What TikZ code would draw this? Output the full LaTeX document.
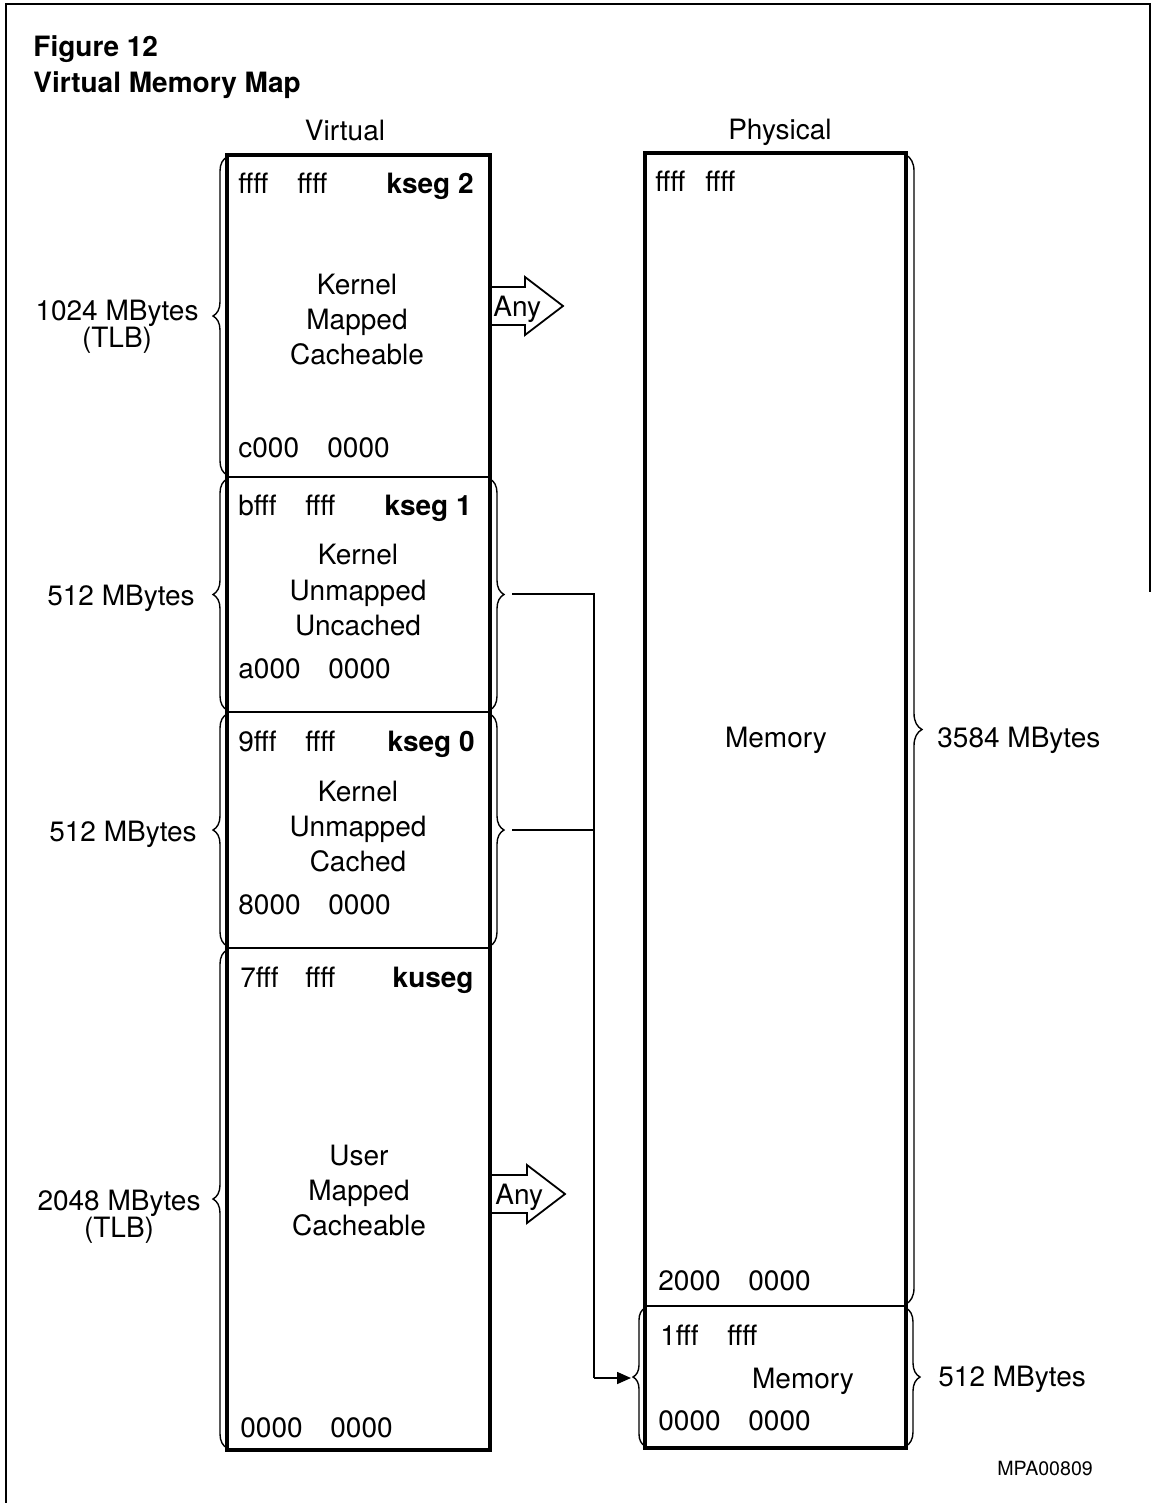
\documentclass[tikz,border=0pt]{standalone}
\usepackage{fontspec}
\setmainfont{TeX Gyre Heros}
\usetikzlibrary{decorations.pathreplacing,arrows.meta}
\begin{document}
\begin{tikzpicture}[x=0.5pt,y=-0.5pt,
  txt/.style={inner sep=0pt,font=\fontsize{14pt}{16pt}\selectfont},
  bld/.style={txt,font=\fontsize{14pt}{16pt}\selectfont\bfseries},
  thick box/.style={line width=2pt},
  divider/.style={line width=1pt},
  frame/.style={line width=1pt},
  brc/.style={decorate,decoration={brace,amplitude=#1},line width=0.7pt},
  brc/.default=7pt,
  conn/.style={line width=0.8pt},
  blockarrow/.style={line width=0.9pt,line join=miter}]
\useasboundingbox (0,0) rectangle (1152,1503);
% frame
\draw[frame] (6,1503) -- (6,4) -- (1150,4) -- (1150,592);
% titles
\node[bld,anchor=base west] (fig) at (33,57) {Figure 12};
\node[bld,anchor=base west] (title) at (33,93) {Virtual Memory Map};
\node[txt,anchor=base] (virt) at (345,141) {Virtual};
\node[txt,anchor=base] (phys) at (780,140) {Physical};
% virtual column
\draw[thick box] (227,155) rectangle (490,1450);
\draw[divider] (227,477) -- (490,477);
\draw[divider] (227,712) -- (490,712);
\draw[divider] (227,948) -- (490,948);
% left braces
\draw[brc] (227,475) -- (227,157);
\draw[brc] (227,710) -- (227,479);
\draw[brc] (227,946) -- (227,714);
\draw[brc] (227,1448) -- (227,950);
% right braces kseg1, kseg0
\draw[brc] (490,479) -- (490,710);
\draw[brc] (490,714) -- (490,946);
\coordinate (k1tip) at (512,594);
\coordinate (k0tip) at (512,830);
% kseg2
\node[txt,anchor=base west] (k2a) at (238,194) {ffff};
\node[txt,anchor=base west] (k2b) at (297,194) {ffff};
\node[bld,anchor=base east] (k2n) at (474,194) {kseg 2};
\node[txt,anchor=base] (k2l1) at (357,294) {Kernel};
\node[txt,anchor=base] (k2l2) at (357,329) {Mapped};
\node[txt,anchor=base] (k2l3) at (357,364) {Cacheable};
\node[txt,anchor=base west] (k2c) at (238,457) {c000};
\node[txt,anchor=base west] (k2d) at (327,457) {0000};
% kseg1
\node[txt,anchor=base west] (k1a) at (238,515) {bfff};
\node[txt,anchor=base west] (k1b) at (305,515) {ffff};
\node[bld,anchor=base east] (k1n) at (472,515) {kseg 1};
\node[txt,anchor=base] (k1l1) at (358,564) {Kernel};
\node[txt,anchor=base] (k1l2) at (358,600) {Unmapped};
\node[txt,anchor=base] (k1l3) at (358,635) {Uncached};
\node[txt,anchor=base west] (k1c) at (238,678) {a000};
\node[txt,anchor=base west] (k1d) at (328,678) {0000};
% kseg0
\node[txt,anchor=base west] (k0a) at (238,751) {9fff};
\node[txt,anchor=base west] (k0b) at (305,751) {ffff};
\node[bld,anchor=base east] (k0n) at (475,751) {kseg 0};
\node[txt,anchor=base] (k0l1) at (358,801) {Kernel};
\node[txt,anchor=base] (k0l2) at (358,836) {Unmapped};
\node[txt,anchor=base] (k0l3) at (358,871) {Cached};
\node[txt,anchor=base west] (k0c) at (238,914) {8000};
\node[txt,anchor=base west] (k0d) at (328,914) {0000};
% kuseg
\node[txt,anchor=base west] (kua) at (240,987) {7fff};
\node[txt,anchor=base west] (kub) at (305,987) {ffff};
\node[bld,anchor=base east] (kun) at (474,987) {kuseg};
\node[txt,anchor=base] (kul1) at (359,1165) {User};
\node[txt,anchor=base] (kul2) at (359,1200) {Mapped};
\node[txt,anchor=base] (kul3) at (359,1235) {Cacheable};
\node[txt,anchor=base west] (kuc) at (240,1437) {0000};
\node[txt,anchor=base west] (kud) at (330,1437) {0000};
% left size labels
\node[txt,anchor=base] (s1a) at (117,320) {1024 MBytes};
\node[txt,anchor=base] (s1b) at (117,347) {(TLB)};
\node[txt,anchor=base] (s2) at (121,605) {512 MBytes};
\node[txt,anchor=base] (s3) at (123,841) {512 MBytes};
\node[txt,anchor=base] (s4a) at (119,1210) {2048 MBytes};
\node[txt,anchor=base] (s4b) at (119,1237) {(TLB)};
% Any block arrows
\draw[blockarrow] (490,287) -- (525,287) -- (525,277) -- (563,306) -- (525,335) -- (525,325) -- (490,325);
\node[txt,anchor=base west] (any1) at (493,316) {Any};
\draw[blockarrow] (491,1175) -- (527,1175) -- (527,1165) -- (565,1194) -- (527,1223) -- (527,1213) -- (491,1213);
\node[txt,anchor=base west] (any2) at (495,1204) {Any};
% physical column
\draw[thick box] (645,153) rectangle (906,1448);
\draw[divider] (645,1306) -- (906,1306);
\draw[brc=8pt] (906,155) -- (906,1304);
\draw[brc=6pt] (645,1446) -- (645,1308);
\draw[brc=7pt] (906,1308) -- (906,1446);
\coordinate (pmtip) at (631,1378);
\node[txt,anchor=base west] (pa) at (655,192) {ffff};
\node[txt,anchor=base west] (pb) at (705,192) {ffff};
\node[txt,anchor=base] (pmem) at (776,747) {Memory};
\node[txt,anchor=base west] (pc) at (658,1290) {2000};
\node[txt,anchor=base west] (pd) at (748,1290) {0000};
\node[txt,anchor=base west] (pe) at (660,1345) {1fff};
\node[txt,anchor=base west] (pf) at (727,1345) {ffff};
\node[txt,anchor=base] (pmem2) at (803,1388) {Memory};
\node[txt,anchor=base west] (pg) at (658,1430) {0000};
\node[txt,anchor=base west] (ph) at (748,1430) {0000};
\node[txt,anchor=base west] (ps1) at (937,747) {3584 MBytes};
\node[txt,anchor=base west] (ps2) at (938,1386) {512 MBytes};
\node[inner sep=0pt,anchor=base west,font=\fontsize{9.8pt}{11pt}\selectfont] (code) at (997,1475) {MPA00809};
% connectors
\coordinate (jn) at (594,594);
\coordinate (jn0) at (594,830);
\coordinate (jb) at (594,1378);
\draw[conn] (k1tip) -- (jn) -- (jb);
\draw[conn] (k0tip) -- (jn0);
\draw[conn,-{Triangle[length=7pt,width=6pt]}] (jb) -- (pmtip);
\end{tikzpicture}
\end{document}
